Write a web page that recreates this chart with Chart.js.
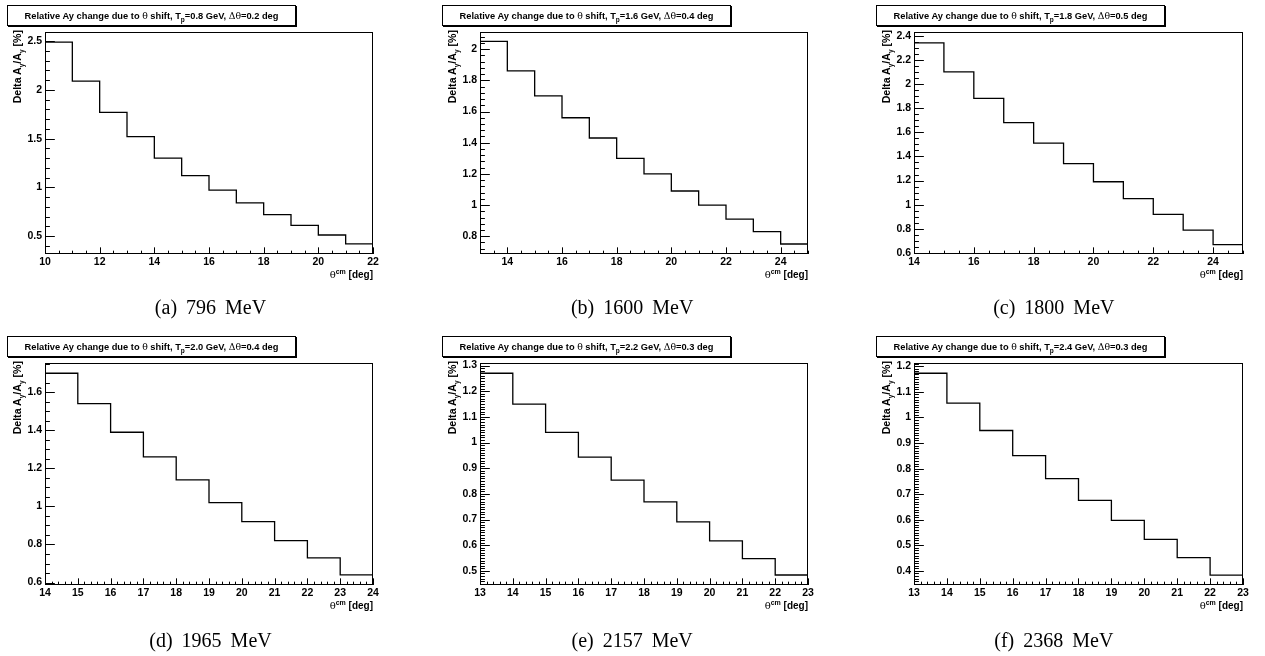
<!DOCTYPE html>
<html>
<head>
<meta charset="utf-8">
<script src="https://cdn.jsdelivr.net/npm/chart.js@4.4.1/dist/chart.umd.min.js"></script>
<style>
  html, body { margin: 0; padding: 0; background: #fff; }
  body { width: 1265px; height: 656px; position: relative; overflow: hidden; font-family: "Liberation Sans", Arial, sans-serif; }
  canvas { position: absolute; }
  .pave { position: absolute; box-sizing: border-box; height: 21px; width: 289px; border: 1px solid #000; box-shadow: 1px 1px 0 #000;
          background: #fff; font-weight: bold; font-size: 9.3px; line-height: 19px; text-align: center; white-space: nowrap; }
  .sym { font-family: "DejaVu Serif", serif; font-weight: normal; }
  .sub { position: relative; top: 3px; font-size: 6.5px; }
  .sup { position: relative; top: -4px; font-size: 7px; }
  .ytitle { position: absolute; width: 150px; transform-origin: 0 0; transform: rotate(-90deg); text-align: right;
            font-weight: bold; font-size: 10.6px; line-height: 12px; white-space: nowrap; }
  .xtitle { position: absolute; width: 200px; text-align: right; font-weight: bold; font-size: 10px; line-height: 12px; white-space: nowrap; }
  .caption { position: absolute; width: 421px; text-align: center; font-family: "Liberation Serif", serif; font-size: 20px;
             line-height: 22px; word-spacing: 4px; white-space: nowrap; }
</style>
</head>
<body>
<script>
// bin edges (theta_cm, deg) and relative Ay change (%) per beam energy
const edgesA = [10, 11, 12, 13, 14, 15, 16, 17, 18, 19, 20, 21, 22];
const shiftA = [2.49, 2.09, 1.77, 1.52, 1.30, 1.12, 0.97, 0.84, 0.72, 0.61, 0.51, 0.42];

const edgesB = [13, 14, 15, 16, 17, 18, 19, 20, 21, 22, 23, 24, 25];
const shiftB = [2.05, 1.86, 1.70, 1.56, 1.43, 1.30, 1.20, 1.09, 1.00, 0.91, 0.83, 0.75];

const edgesC = [14, 15, 16, 17, 18, 19, 20, 21, 22, 23, 24, 25];
const shiftC = [2.34, 2.10, 1.88, 1.68, 1.51, 1.34, 1.19, 1.05, 0.92, 0.79, 0.67];

const edgesD = [14, 15, 16, 17, 18, 19, 20, 21, 22, 23, 24];
const shiftD = [1.70, 1.54, 1.39, 1.26, 1.14, 1.02, 0.92, 0.82, 0.73, 0.64];

const edgesE = [13, 14, 15, 16, 17, 18, 19, 20, 21, 22, 23];
const shiftE = [1.27, 1.15, 1.04, 0.943, 0.854, 0.769, 0.691, 0.617, 0.548, 0.484];

const edgesF = [13, 14, 15, 16, 17, 18, 19, 20, 21, 22, 23];
const shiftF = [1.173, 1.056, 0.949, 0.851, 0.761, 0.676, 0.598, 0.523, 0.452, 0.384];

// tick labels
const xTicksA = [10, 12, 14, 16, 18, 20, 22];
const xTicksB = [14, 16, 18, 20, 22, 24];
const xTicksC = [14, 16, 18, 20, 22, 24];
const xTicksD = [14, 15, 16, 17, 18, 19, 20, 21, 22, 23, 24];
const xTicksE = [13, 14, 15, 16, 17, 18, 19, 20, 21, 22, 23];
const xTicksF = [13, 14, 15, 16, 17, 18, 19, 20, 21, 22, 23];

const yTicksA = [0.5, 1, 1.5, 2, 2.5];
const yTicksB = [0.8, 1, 1.2, 1.4, 1.6, 1.8, 2];
const yTicksC = [0.6, 0.8, 1, 1.2, 1.4, 1.6, 1.8, 2, 2.2, 2.4];
const yTicksD = [0.6, 0.8, 1, 1.2, 1.4, 1.6];
const yTicksE = [0.5, 0.6, 0.7, 0.8, 0.9, 1, 1.1, 1.2, 1.3];
const yTicksF = [0.4, 0.5, 0.6, 0.7, 0.8, 0.9, 1, 1.1, 1.2];

const beamEnergy = ["0.8", "1.6", "1.8", "2.0", "2.2", "2.4"];
const thetaShift = ["0.2", "0.4", "0.5", "0.4", "0.3", "0.3"];
const captions = ["(a) 796 MeV", "(b) 1600 MeV", "(c) 1800 MeV", "(d) 1965 MeV", "(e) 2157 MeV", "(f) 2368 MeV"];

const panels = [
  { edges: edgesA, vals: shiftA, xTicks: xTicksA, yTicks: yTicksA, xMin: 10, xMax: 22, yMin: 0.315, yMax: 2.595, xMinor: 0.5, yMinor: 0.1,
    left: 45, top: 32, w: 328, h: 222, col: 0 },
  { edges: edgesB, vals: shiftB, xTicks: xTicksB, yTicks: yTicksB, xMin: 13, xMax: 25, yMin: 0.686, yMax: 2.11, xMinor: 0.5, yMinor: 0.04,
    left: 480, top: 32, w: 328, h: 222, col: 1 },
  { edges: edgesC, vals: shiftC, xTicks: xTicksC, yTicks: yTicksC, xMin: 14, xMax: 25, yMin: 0.592, yMax: 2.43, xMinor: 0.5, yMinor: 0.05,
    left: 914, top: 32, w: 329, h: 222, col: 2 },
  { edges: edgesD, vals: shiftD, xTicks: xTicksD, yTicks: yTicksD, xMin: 14, xMax: 24, yMin: 0.587, yMax: 1.754, xMinor: 0.2, yMinor: 0.05,
    left: 45, top: 363, w: 328, h: 222, col: 0 },
  { edges: edgesE, vals: shiftE, xTicks: xTicksE, yTicks: yTicksE, xMin: 13, xMax: 23, yMin: 0.445, yMax: 1.31, xMinor: 0.2, yMinor: 0.01,
    left: 480, top: 363, w: 328, h: 222, col: 1 },
  { edges: edgesF, vals: shiftF, xTicks: xTicksF, yTicks: yTicksF, xMin: 13, xMax: 23, yMin: 0.345, yMax: 1.213, xMinor: 0.2, yMinor: 0.01,
    left: 914, top: 363, w: 329, h: 222, col: 2 }
];

// ROOT-like frame with inward ticks
const rootAxes = {
  id: "rootAxes",
  afterDatasetsDraw(chart, args, opts) {
    const { ctx, chartArea: a } = chart;
    const xs = chart.scales.x;
    const ys = chart.scales.y;
    const xLen = 0.03 * a.height;
    const yLen = 0.03 * a.width;
    ctx.save();
    ctx.strokeStyle = "#000";
    ctx.lineWidth = 1;
    ctx.beginPath();
    for (let v = Math.ceil(xs.min / opts.xMinor - 1e-6) * opts.xMinor; v <= xs.max + 1e-6; v += opts.xMinor) {
      const px = Math.round(xs.getPixelForValue(v)) + 0.5;
      const major = xs.ticks.some(t => Math.abs(t.value - v) < 1e-6);
      ctx.moveTo(px, a.bottom);
      ctx.lineTo(px, a.bottom - (major ? xLen : xLen / 2));
    }
    for (let v = Math.ceil(ys.min / opts.yMinor - 1e-6) * opts.yMinor; v <= ys.max + 1e-6; v += opts.yMinor) {
      const py = Math.round(ys.getPixelForValue(v)) + 0.5;
      const major = ys.ticks.some(t => Math.abs(t.value - v) < 1e-6);
      ctx.moveTo(a.left, py);
      ctx.lineTo(a.left + (major ? yLen : yLen / 2), py);
    }
    ctx.stroke();
    ctx.strokeRect(a.left + 0.5, a.top + 0.5, a.width - 1, a.height - 1);
    ctx.restore();
  }
};

function histPoints(edges, vals) {
  return edges.map((e, i) => ({ x: e, y: vals[Math.min(i, vals.length - 1)] }));
}

function fmt(v) {
  return String(+v.toFixed(3));
}

const tickFont = { family: "'Liberation Sans', Arial, sans-serif", size: 10.5, weight: "bold" };

function addHtml(cls, html, style) {
  const d = document.createElement("div");
  d.className = cls;
  d.innerHTML = html;
  Object.assign(d.style, style);
  document.body.appendChild(d);
}

panels.forEach((p, i) => {
  const canvas = document.createElement("canvas");
  canvas.width = p.w + 50;
  canvas.height = p.h + 30;
  canvas.style.left = (p.left - 40) + "px";
  canvas.style.top = (p.top - 10) + "px";
  canvas.style.width = canvas.width + "px";
  canvas.style.height = canvas.height + "px";
  document.body.appendChild(canvas);

  new Chart(canvas, {
    type: "line",
    data: {
      datasets: [
        {
          data: histPoints(p.edges, p.vals),
          borderColor: "#000",
          borderWidth: 1.3,
          pointRadius: 0,
          stepped: true,
          fill: false
        }
      ]
    },
    options: {
      responsive: false,
      devicePixelRatio: 1,
      animation: false,
      layout: { padding: { left: 0, top: 10, right: 10, bottom: 0 } },
      plugins: {
        legend: { display: false },
        tooltip: { enabled: false },
        rootAxes: { xMinor: p.xMinor, yMinor: p.yMinor }
      },
      scales: {
        x: {
          type: "linear",
          min: p.xMin,
          max: p.xMax,
          grid: { display: false, drawTicks: false },
          border: { display: false },
          afterBuildTicks: s => { s.ticks = p.xTicks.map(v => ({ value: v })); },
          afterFit: s => { s.height = 20; },
          ticks: { color: "#000", font: tickFont, padding: 2, maxRotation: 0, autoSkip: false, callback: fmt }
        },
        y: {
          min: p.yMin,
          max: p.yMax,
          grid: { display: false, drawTicks: false },
          border: { display: false },
          afterBuildTicks: s => { s.ticks = p.yTicks.map(v => ({ value: v })); },
          afterFit: s => { s.width = 40; },
          ticks: { color: "#000", font: tickFont, padding: 3, autoSkip: false, callback: fmt }
        }
      }
    },
    plugins: [rootAxes]
  });

  // title pave
  addHtml("pave",
    "Relative Ay change due to <span class='sym'>&theta;</span> shift, T<span class='sub'>p</span>=" + beamEnergy[i] +
    " GeV, <span class='sym'>&Delta;&theta;</span>=" + thetaShift[i] + " deg",
    { left: (p.left - 38) + "px", top: (p.top - 27) + "px" });

  // y axis title
  addHtml("ytitle",
    "Delta A<span class='sub'>y</span>/A<span class='sub'>y</span> [%]",
    { left: (p.left - 34) + "px", top: (p.top - 2 + 150) + "px" });

  // x axis title
  addHtml("xtitle",
    "<span class='sym'>&theta;</span><span class='sup'>cm</span> [deg]",
    { left: (p.left + p.w - 200) + "px", top: (p.top + p.h + 15) + "px" });

  // sub-figure caption
  addHtml("caption", captions[i],
    { left: (p.col * 421.67) + "px", top: (p.top < 100 ? 296 : 629) + "px" });
});
</script>
</body>
</html>
